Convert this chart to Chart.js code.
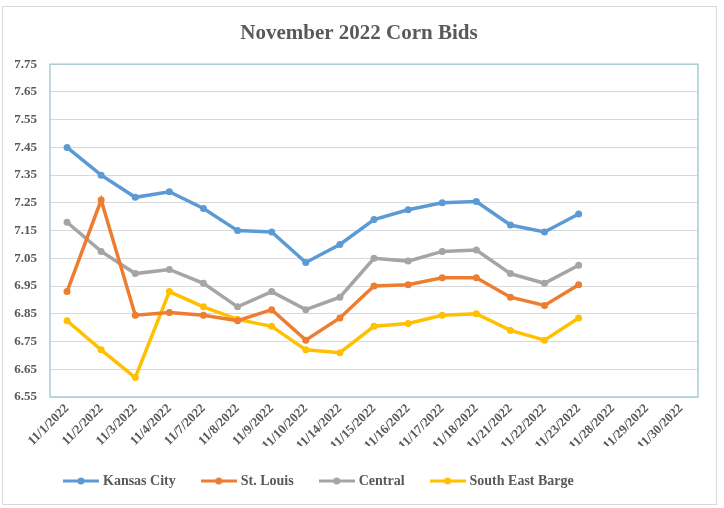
<!DOCTYPE html>
<html>
<head>
<meta charset="utf-8">
<script src="https://cdn.jsdelivr.net/npm/chart.js@4"></script>
<style>
  html, body { margin: 0; padding: 0; background: #fff; }
  #wrap { position: relative; width: 724px; height: 508px; }
</style>
</head>
<body>
<div id="wrap"><canvas id="cornChart" width="724" height="508"></canvas></div>
<script>
// ==========================================
// November 2022 Corn Bids - data
// ==========================================
const dates = ['11/1/2022', '11/2/2022', '11/3/2022', '11/4/2022', '11/7/2022', '11/8/2022',
  '11/9/2022', '11/10/2022', '11/14/2022', '11/15/2022', '11/16/2022', '11/17/2022',
  '11/18/2022', '11/21/2022', '11/22/2022', '11/23/2022', '11/28/2022', '11/29/2022', '11/30/2022'];

const kansasCity = [7.45, 7.35, 7.27, 7.29, 7.23, 7.15, 7.145, 7.035, 7.10, 7.19, 7.225, 7.25, 7.255, 7.17, 7.145, 7.21, null, null, null];
const stLouis = [6.93, 7.26, 6.845, 6.855, 6.845, 6.825, 6.865, 6.755, 6.835, 6.95, 6.955, 6.98, 6.98, 6.91, 6.88, 6.955, null, null, null];
const central = [7.18, 7.075, 6.995, 7.01, 6.96, 6.875, 6.93, 6.865, 6.91, 7.05, 7.04, 7.075, 7.08, 6.995, 6.96, 7.025, null, null, null];
const southEastBarge = [6.825, 6.72, 6.62, 6.93, 6.875, 6.83, 6.805, 6.72, 6.71, 6.805, 6.815, 6.845, 6.85, 6.79, 6.755, 6.835, null, null, null];

const seriesNames = ['Kansas City', 'St. Louis', 'Central', 'South East Barge'];
const yMin = 6.55;
const yMax = 7.75;
const yStep = 0.1;

// ==========================================
// Styling
// ==========================================
const colors = ['#5B9BD5', '#ED7D31', '#A5A5A5', '#FFC000'];
const textColor = '#595959';
const serif = "'Liberation Serif', 'Times New Roman', serif";

// Legend marker: line with a dot in the middle
function legendIcon(color) {
  const c = document.createElement('canvas');
  c.width = 36;
  c.height = 10;
  const g = c.getContext('2d');
  g.strokeStyle = color;
  g.lineWidth = 3;
  g.beginPath();
  g.moveTo(0, 5);
  g.lineTo(36, 5);
  g.stroke();
  g.fillStyle = color;
  g.beginPath();
  g.arc(18, 5, 3.5, 0, Math.PI * 2);
  g.fill();
  return c;
}

// Frame around whole chart + border round the plot area
const frames = {
  id: 'frames',
  beforeDraw(chart) {
    const ctx = chart.ctx;
    ctx.save();
    ctx.fillStyle = '#fff';
    ctx.fillRect(0, 0, chart.width, chart.height);
    ctx.strokeStyle = '#D9D9D9';
    ctx.lineWidth = 1;
    ctx.strokeRect(2.5, 6.5, 714, 498);
    ctx.restore();
  },
  afterDatasetsDraw(chart) {
    const { left, top, right, bottom } = chart.chartArea;
    const ctx = chart.ctx;
    ctx.save();
    ctx.strokeStyle = '#A9CDD2';
    ctx.lineWidth = 1.5;
    ctx.strokeRect(left, top, right - left, bottom - top);
    ctx.restore();
  }
};

// Nudge title and legend to where the reference has them
const shiftBoxes = {
  id: 'shiftBoxes',
  afterLayout(chart) {
    chart.titleBlock.left += 20;
    chart.legend.left = 38;
  }
};

function makeDataset(label, data, color) {
  return {
    label,
    data,
    borderColor: color,
    backgroundColor: color,
    borderWidth: 3.5,
    pointRadius: 3.5,
    pointBackgroundColor: color,
    pointBorderColor: color,
    pointBorderWidth: 0,
    tension: 0,
    spanGaps: false
  };
}

new Chart(document.getElementById('cornChart'), {
  type: 'line',
  data: {
    labels: dates,
    datasets: [
      makeDataset(seriesNames[0], kansasCity, colors[0]),
      makeDataset(seriesNames[1], stLouis, colors[1]),
      makeDataset(seriesNames[2], central, colors[2]),
      makeDataset(seriesNames[3], southEastBarge, colors[3])
    ]
  },
  options: {
    responsive: false,
    animation: false,
    layout: { padding: { left: 0, right: 26, top: 0, bottom: 10 } },
    plugins: {
      title: {
        display: true,
        text: 'November 2022 Corn Bids',
        color: textColor,
        font: { family: serif, size: 21, weight: 'bold' },
        padding: { top: 21, bottom: 18 }
      },
      legend: {
        display: true,
        position: 'bottom',
        align: 'start',
        labels: {
          usePointStyle: true,
          pointStyleWidth: 30,
          padding: 28,
          color: textColor,
          font: { family: serif, size: 14, weight: 'bold' },
          generateLabels: (chart) => {
            const items = Chart.defaults.plugins.legend.labels.generateLabels(chart);
            items.forEach((it, i) => { it.pointStyle = legendIcon(colors[i]); });
            return items;
          }
        }
      },
      tooltip: { enabled: false }
    },
    scales: {
      x: {
        offset: true,
        grid: { display: false, drawTicks: false, offset: true },
        border: { display: false },
        ticks: {
          color: textColor,
          font: { family: serif, size: 13, weight: 'bold' },
          minRotation: 45,
          maxRotation: 45,
          autoSkip: false,
          padding: 4
        },
        afterFit: (scale) => { scale.height = 49; }
      },
      y: {
        min: yMin,
        max: yMax,
        grid: { color: '#D9D9D9', lineWidth: 1, drawTicks: false },
        border: { display: false },
        ticks: {
          stepSize: yStep,
          color: textColor,
          font: { family: serif, size: 13, weight: 'bold' },
          padding: 13,
          callback: (v) => Number(v).toFixed(2)
        },
        afterFit: (scale) => { scale.width = 50; }
      }
    }
  },
  plugins: [frames, shiftBoxes]
});
</script>
</body>
</html>
